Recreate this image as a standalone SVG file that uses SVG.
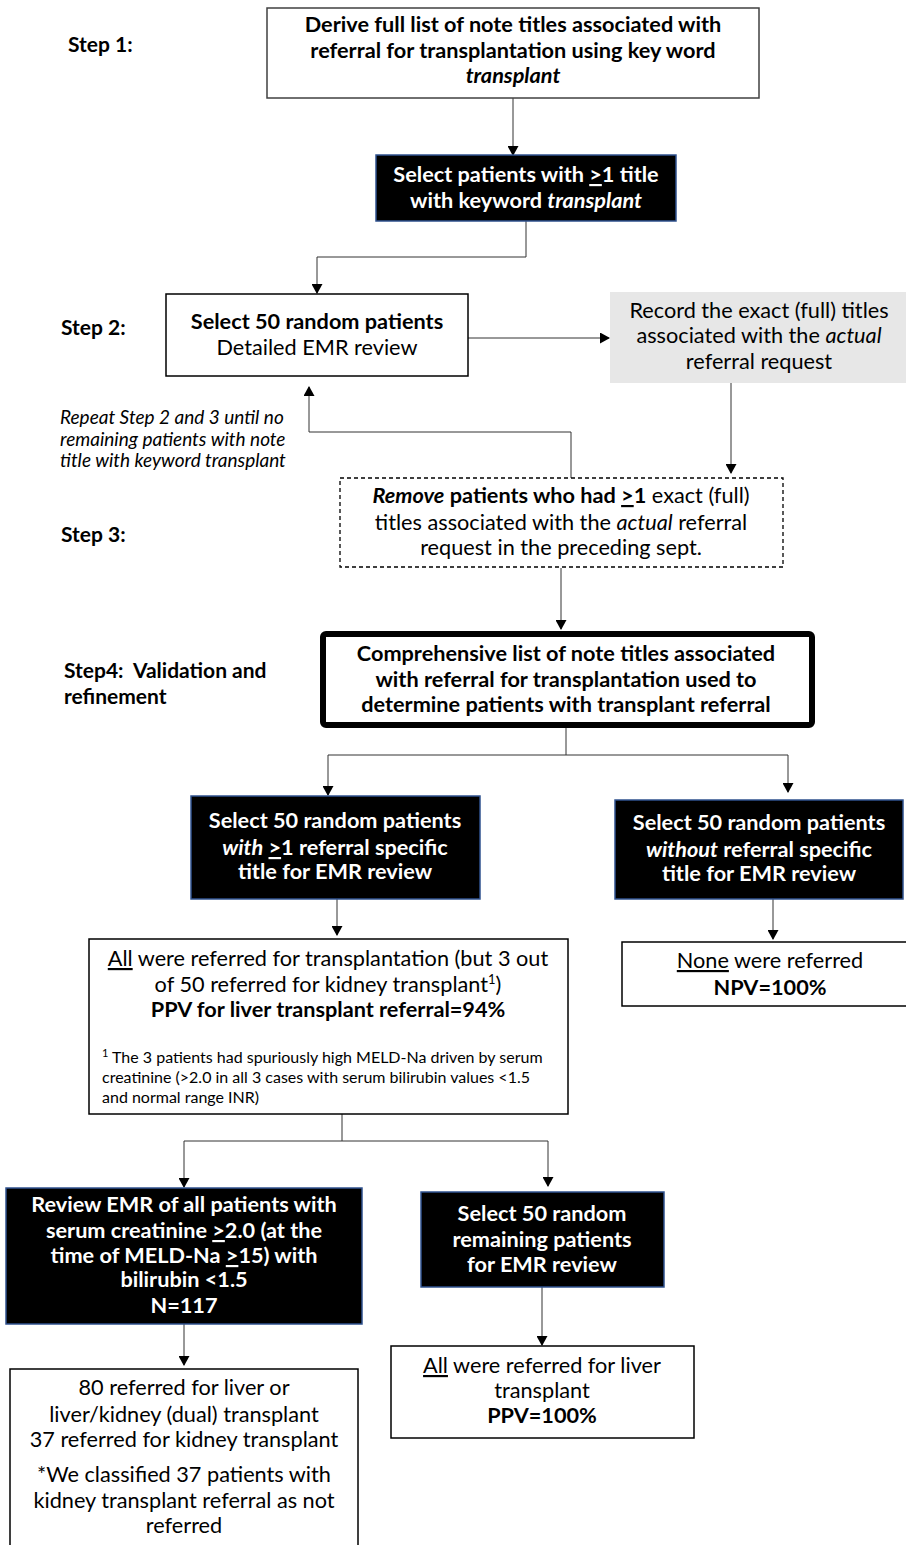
<svg xmlns="http://www.w3.org/2000/svg" width="906" height="1545" viewBox="0 0 906 1545">
<defs>
<marker id="ah" markerWidth="10" markerHeight="11" refX="9" refY="5.5" orient="auto" markerUnits="userSpaceOnUse">
<path d="M0,0 L10,5.5 L0,11 Z" fill="#000"/>
</marker>
<style>
text{font-family:Lato,"Open Sans","Liberation Sans",sans-serif;font-size:21.7px;fill:#000}
.c{text-anchor:middle}
.b{font-weight:bold}
.i{font-style:italic}
.w{fill:#fff}
.u{text-decoration:underline}
.step{font-size:21px;font-weight:bold}
.rep{font-size:19px;font-style:italic}
.fn{font-size:16px}
.box{fill:#fff;stroke:#000;stroke-width:1.5}
.blk{fill:#000;stroke:#2F528F;stroke-width:1.5}
.conn{fill:none;stroke:#333;stroke-width:1}
</style>
</defs>
<rect width="906" height="1545" fill="#fff"/>

<g id="labels">
<text class="step" x="68" y="52">Step 1:</text>
<text class="step" x="61" y="335">Step 2:</text>
<text class="step" x="61" y="542">Step 3:</text>
<text class="step" x="64" y="678" xml:space="preserve">Step4:  Validation and</text>
<text class="step" x="64" y="704">refinement</text>
<text class="rep" x="60" y="424">Repeat Step 2 and 3 until no</text>
<text class="rep" x="60" y="446">remaining patients with note</text>
<text class="rep" x="60" y="467">title with keyword transplant</text>
</g>

<g id="connectors">
<path class="conn" d="M513,98 V155" marker-end="url(#ah)"/>
<path class="conn" d="M526,221 V257 H317 V293" marker-end="url(#ah)"/>
<path class="conn" d="M468,338 H609" marker-end="url(#ah)"/>
<path class="conn" d="M731,383 V473" marker-end="url(#ah)"/>
<path class="conn" d="M571,478 V432 H309 V387" marker-end="url(#ah)"/>
<path class="conn" d="M561,568 V629" marker-end="url(#ah)"/>
<path class="conn" d="M566,728 V755 H328 V795" marker-end="url(#ah)"/>
<path class="conn" d="M566,755 H788 V792" marker-end="url(#ah)"/>
<path class="conn" d="M337,899 V935" marker-end="url(#ah)"/>
<path class="conn" d="M773,899 V939" marker-end="url(#ah)"/>
<path class="conn" d="M342,1114 V1141 H184 V1187" marker-end="url(#ah)"/>
<path class="conn" d="M342,1141 H548 V1186" marker-end="url(#ah)"/>
<path class="conn" d="M184,1324 V1365" marker-end="url(#ah)"/>
<path class="conn" d="M542,1287 V1345" marker-end="url(#ah)"/>
</g>

<g id="n1">
<rect x="267" y="8" width="492" height="90" fill="#fff" stroke="#404040" stroke-width="1.5"/>
<text class="c b" x="513" y="32">Derive full list of note titles associated with</text>
<text class="c b" x="513" y="58">referral for transplantation using key word</text>
<text class="c b i" x="513" y="83">transplant</text>
</g>

<g id="n2">
<rect class="blk" x="376" y="155" width="300" height="66"/>
<text class="c b w" x="526" y="182">Select patients with <tspan class="u">&gt;</tspan>1 title</text>
<text class="c b w" x="526" y="208">with keyword <tspan class="i">transplant</tspan></text>
</g>

<g id="n3">
<rect class="box" x="166" y="294" width="302" height="82"/>
<text class="c b" x="317" y="329">Select 50 random patients</text>
<text class="c" x="317" y="355">Detailed EMR review</text>
</g>

<g id="n4">
<rect x="610" y="292" width="296" height="91" fill="#E7E7E7"/>
<text class="c" x="759" y="318">Record the exact (full) titles</text>
<text class="c" x="759" y="343">associated with the <tspan class="i">actual</tspan></text>
<text class="c" x="759" y="369">referral request</text>
</g>

<g id="n5">
<rect x="340" y="478" width="443" height="89" fill="#fff" stroke="#000" stroke-width="1.3" stroke-dasharray="4 3"/>
<text class="c" x="561" y="503"><tspan class="b i">Remove</tspan><tspan class="b"> patients who had </tspan><tspan class="b u">&gt;</tspan><tspan class="b">1</tspan> exact (full)</text>
<text class="c" x="561" y="530">titles associated with the <tspan class="i">actual</tspan> referral</text>
<text class="c" x="561" y="555">request in the preceding sept.</text>
</g>

<g id="n6">
<rect x="323" y="634" width="489" height="91" rx="3" fill="#fff" stroke="#000" stroke-width="6"/>
<text class="c b" x="566" y="661">Comprehensive list of note titles associated</text>
<text class="c b" x="566" y="687">with referral for transplantation used to</text>
<text class="c b" x="566" y="712">determine patients with transplant referral</text>
</g>

<g id="n7">
<rect class="blk" x="191" y="796" width="289" height="103"/>
<text class="c b w" x="335" y="828">Select 50 random patients</text>
<text class="c b w" x="335" y="855"><tspan class="i">with</tspan> <tspan class="u">&gt;</tspan>1 referral specific</text>
<text class="c b w" x="335" y="879">title for EMR review</text>
</g>

<g id="n8">
<rect class="blk" x="615" y="800" width="288" height="99"/>
<text class="c b w" x="759" y="830">Select 50 random patients</text>
<text class="c b w" x="759" y="857"><tspan class="i">without</tspan> referral specific</text>
<text class="c b w" x="759" y="881">title for EMR review</text>
</g>

<g id="n9">
<rect class="box" x="89" y="939" width="479" height="175"/>
<text class="c" x="328" y="966"><tspan class="u">All</tspan> were referred for transplantation (but 3 out</text>
<text class="c" x="328" y="992">of 50 referred for kidney transplant<tspan font-size="13" dy="-8">1</tspan><tspan dy="8">)</tspan></text>
<text class="c b" x="328" y="1017">PPV for liver transplant referral=94%</text>
<text class="fn" x="102" y="1063"><tspan font-size="11" dy="-6">1</tspan><tspan dy="6"> The 3 patients had spuriously high MELD-Na driven by serum</tspan></text>
<text class="fn" x="102" y="1083">creatinine (&gt;2.0 in all 3 cases with serum bilirubin values &lt;1.5</text>
<text class="fn" x="102" y="1103">and normal range INR)</text>
</g>

<g id="n10">
<rect class="box" x="622" y="942" width="290" height="64"/>
<text class="c" x="770" y="968"><tspan class="u">None</tspan> were referred</text>
<text class="c b" x="770" y="995">NPV=100%</text>
</g>

<g id="n11">
<rect class="blk" x="6" y="1188" width="356" height="136"/>
<text class="c b w" x="184" y="1212">Review EMR of all patients with</text>
<text class="c b w" x="184" y="1238">serum creatinine <tspan class="u">&gt;</tspan>2.0 (at the</text>
<text class="c b w" x="184" y="1263">time of MELD-Na <tspan class="u">&gt;</tspan>15) with</text>
<text class="c b w" x="184" y="1287">bilirubin &lt;1.5</text>
<text class="c b w" x="184" y="1313">N=117</text>
</g>

<g id="n12">
<rect class="blk" x="421" y="1192" width="243" height="95"/>
<text class="c b w" x="542" y="1221">Select 50 random</text>
<text class="c b w" x="542" y="1247">remaining patients</text>
<text class="c b w" x="542" y="1272">for EMR review</text>
</g>

<g id="n13">
<rect class="box" x="10" y="1369" width="348" height="185"/>
<text class="c" x="184" y="1395">80 referred for liver or</text>
<text class="c" x="184" y="1422">liver/kidney (dual) transplant</text>
<text class="c" x="184" y="1447">37 referred for kidney transplant</text>
<text class="c" x="184" y="1482">*We classified 37 patients with</text>
<text class="c" x="184" y="1508">kidney transplant referral as not</text>
<text class="c" x="184" y="1533">referred</text>
</g>

<g id="n14">
<rect class="box" x="391" y="1346" width="303" height="92"/>
<text class="c" x="542" y="1373"><tspan class="u">All</tspan> were referred for liver</text>
<text class="c" x="542" y="1398">transplant</text>
<text class="c b" x="542" y="1423">PPV=100%</text>
</g>
</svg>
